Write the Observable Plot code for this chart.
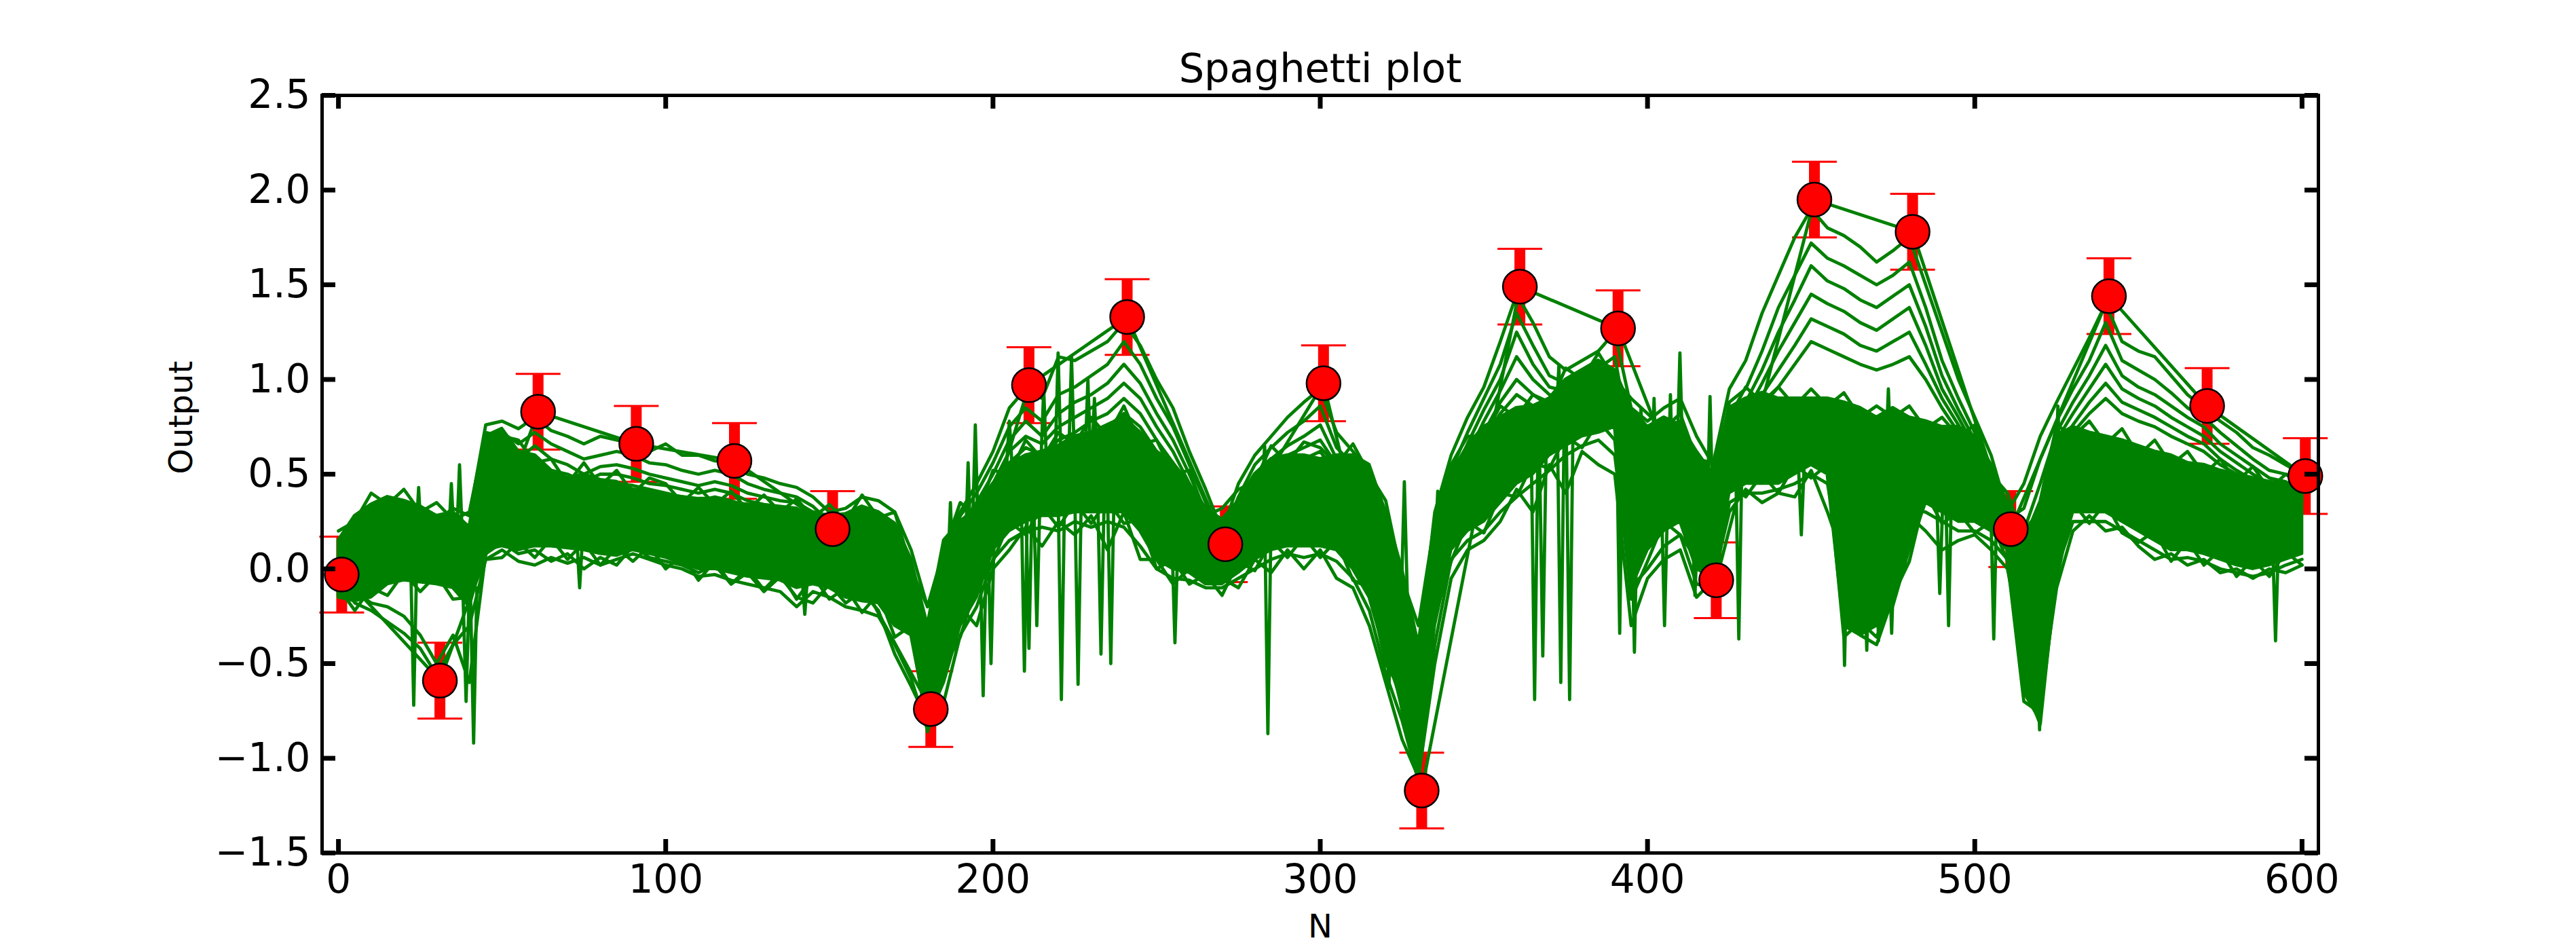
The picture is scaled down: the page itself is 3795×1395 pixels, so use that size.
<!DOCTYPE html>
<html><head><meta charset="utf-8">
<script src="https://cdn.jsdelivr.net/npm/d3@7"></script>
<script src="https://cdn.jsdelivr.net/npm/@observablehq/plot@0.6"></script>
<style>body{margin:0;background:#fff}</style>
</head><body><div id="chart"></div>
<script>
// ---------- observed points ----------
const obsX = [1,31,61,91,121,151,181,211,241,271,301,331,361,391,421,451,481,511,541,571,601];
const obsY = [-0.03,-0.59,0.83,0.66,0.57,0.21,-0.74,0.97,1.33,0.13,0.98,-1.17,1.49,1.27,-0.06,1.95,1.78,0.21,1.44,0.86,0.49];
const obsErr = 0.2;

// ---------- axis ticks ----------
const xTicks = [0,100,200,300,400,500,600];
const yTicks = [-1.5,-1.0,-0.5,0.0,0.5,1.0,1.5,2.0,2.5];

// ---------- spaghetti: sample grid every 5 units (0..600) ----------
const sampleX = d3.range(0, 601, 5);
const coreHi = [0.15,0.28,0.34,0.38,0.36,0.33,0.28,0.30,0.22,0.70,
 0.74,0.62,0.60,0.52,0.48,0.50,0.47,0.46,0.42,0.41,
 0.39,0.38,0.37,0.37,0.35,0.34,0.33,0.32,0.31,0.30,
 0.28,0.29,0.33,0.30,0.24,0.05,-0.30,0.15,0.25,0.32,
 0.45,0.55,0.60,0.62,0.65,0.70,0.72,0.76,0.80,0.72,
 0.62,0.56,0.45,0.32,0.26,0.36,0.50,0.58,0.60,0.60,
 0.58,0.60,0.60,0.55,0.30,0.00,-0.40,0.20,0.50,0.65,
 0.75,0.80,0.85,0.86,0.90,1.00,1.05,1.10,1.05,0.85,
 0.75,0.80,0.76,0.62,0.50,0.85,0.90,0.93,0.90,0.90,
 0.90,0.90,0.88,0.85,0.80,0.85,0.80,0.78,0.75,0.75,
 0.70,0.55,0.35,0.20,0.30,0.70,0.75,0.72,0.70,0.68,
 0.65,0.62,0.60,0.56,0.55,0.52,0.50,0.48,0.46,0.45,
 0.45];
const coreLo = [-0.15,-0.17,-0.15,-0.08,-0.06,-0.07,-0.08,-0.10,-0.20,0.10,
 0.12,0.10,0.12,0.12,0.11,0.10,0.08,0.07,0.10,0.08,
 0.06,0.03,0.00,0.00,-0.02,-0.04,-0.05,-0.06,-0.10,-0.08,
 -0.10,-0.15,-0.17,-0.18,-0.30,-0.35,-0.80,-0.60,-0.30,-0.15,
 0.10,0.20,0.25,0.28,0.28,0.30,0.30,0.30,0.30,0.20,
 0.05,0.00,-0.02,-0.08,-0.08,-0.02,0.05,0.10,0.12,0.12,
 0.12,0.10,0.00,-0.15,-0.45,-0.70,-1.05,-0.30,0.10,0.20,
 0.25,0.35,0.45,0.50,0.60,0.65,0.70,0.72,0.75,-0.10,
 0.10,0.20,0.25,0.00,-0.05,0.40,0.45,0.45,0.45,0.50,
 0.55,0.50,-0.30,-0.35,-0.30,-0.20,0.10,0.35,0.30,0.25,
 0.25,0.20,0.10,-0.65,-0.80,0.00,0.30,0.30,0.30,0.25,
 0.20,0.15,0.10,0.10,0.08,0.05,0.02,0.00,0.02,0.05,
 0.08];
// jagged strands along the upper and lower edge of the dense band
const E0 = [0.20,0.25,0.40,0.34,0.42,0.30,0.35,0.26,0.30,0.72,
 0.70,0.68,0.56,0.58,0.45,0.56,0.44,0.52,0.40,0.48,
 0.45,0.35,0.43,0.34,0.41,0.31,0.39,0.30,0.37,0.27,
 0.34,0.25,0.39,0.27,0.30,0.00,-0.20,0.10,0.35,0.28,
 0.52,0.50,0.68,0.58,0.72,0.66,0.80,0.70,0.86,0.66,
 0.68,0.50,0.52,0.28,0.32,0.42,0.46,0.65,0.56,0.67,
 0.64,0.55,0.66,0.50,0.36,-0.05,-0.30,0.25,0.55,0.70,
 0.70,0.86,0.80,0.92,0.86,1.06,1.00,1.14,1.00,0.90,
 0.82,0.74,0.82,0.58,0.56,0.80,0.96,0.88,0.96,0.86,
 0.95,0.86,0.93,0.80,0.86,0.80,0.86,0.74,0.80,0.70,
 0.76,0.50,0.40,0.15,0.36,0.76,0.70,0.78,0.66,0.74,
 0.60,0.68,0.55,0.62,0.50,0.58,0.46,0.54,0.42,0.50,
 0.44];
const E1 = [-0.10,-0.22,-0.10,-0.14,-0.02,-0.12,-0.03,-0.16,-0.15,0.05,
 0.06,0.14,0.06,0.16,0.05,0.14,0.02,0.11,0.04,0.12,
 0.00,0.07,-0.06,0.04,-0.08,0.00,-0.11,-0.02,-0.16,-0.04,
 -0.16,-0.10,-0.23,-0.13,-0.36,-0.30,-0.86,-0.52,-0.36,-0.08,
 0.04,0.25,0.18,0.33,0.22,0.35,0.24,0.36,0.24,0.26,
 0.00,0.05,-0.08,-0.03,-0.14,0.04,-0.01,0.15,0.06,0.17,
 0.06,0.15,-0.06,-0.10,-0.50,-0.65,-1.10,-0.25,0.04,0.25,
 0.19,0.40,0.38,0.56,0.53,0.70,0.64,0.78,0.68,-0.16,
 0.04,0.25,0.18,0.05,-0.12,0.45,0.38,0.50,0.40,0.55,
 0.48,0.55,-0.36,-0.28,-0.36,-0.14,0.04,0.40,0.24,0.30,
 0.19,0.25,0.04,-0.70,-0.76,-0.06,0.35,0.24,0.35,0.19,
 0.14,0.20,0.04,0.15,0.02,0.10,-0.04,0.05,-0.04,0.09,
 0.02];
const U0 = [0.05,0.22,0.33,0.38,0.36,0.30,0.25,0.32,0.28,0.76,
 0.78,0.74,0.80,0.73,0.70,0.66,0.70,0.68,0.66,0.62,
 0.66,0.60,0.60,0.57,0.56,0.50,0.48,0.45,0.43,0.38,
 0.30,0.32,0.38,0.36,0.30,0.10,-0.20,0.10,0.30,0.45,
 0.62,0.85,0.95,0.90,1.12,1.10,1.15,1.20,1.30,1.18,
 1.00,0.85,0.62,0.42,0.20,0.45,0.60,0.70,0.80,0.88,
 0.95,0.72,0.62,0.50,0.30,-0.20,-0.45,0.30,0.60,0.80,
 0.96,1.20,1.45,1.30,1.12,1.05,1.10,1.15,1.25,0.85,
 0.78,0.85,0.90,0.70,0.55,0.95,1.10,1.35,1.55,1.75,
 1.90,1.80,1.76,1.70,1.62,1.68,1.75,1.50,1.25,1.00,
 0.80,0.60,0.30,0.45,0.70,0.88,1.05,1.22,1.40,1.20,
 1.15,1.12,1.02,0.92,0.85,0.78,0.72,0.64,0.60,0.55,
 0.50];
const U1 = [0.00,0.18,0.28,0.33,0.30,0.22,0.18,0.26,0.20,0.68,
 0.72,0.66,0.72,0.66,0.62,0.58,0.60,0.62,0.60,0.56,
 0.55,0.52,0.50,0.52,0.50,0.45,0.42,0.40,0.38,0.33,
 0.25,0.24,0.32,0.30,0.22,0.00,-0.30,0.00,0.28,0.40,
 0.56,0.75,0.85,0.78,0.92,0.96,1.02,1.08,1.20,1.08,
 0.90,0.75,0.55,0.35,0.16,0.38,0.55,0.64,0.72,0.78,
 0.86,0.64,0.55,0.42,0.20,-0.35,-0.70,0.20,0.52,0.72,
 0.90,1.08,1.35,1.18,1.02,0.98,1.02,1.06,1.12,0.65,
 0.60,0.72,0.78,0.55,0.40,0.88,0.95,1.15,1.38,1.55,
 1.72,1.64,1.60,1.55,1.50,1.55,1.62,1.38,1.10,0.90,
 0.72,0.52,0.26,0.32,0.58,0.78,0.95,1.10,1.30,1.10,
 1.05,1.00,0.93,0.85,0.80,0.72,0.65,0.58,0.52,0.50,
 0.46];
const U2 = [-0.05,0.12,0.22,0.28,0.24,0.15,0.10,0.20,0.12,0.60,
 0.66,0.58,0.65,0.58,0.55,0.50,0.54,0.55,0.53,0.50,
 0.48,0.46,0.44,0.46,0.44,0.40,0.38,0.36,0.35,0.30,
 0.20,0.18,0.28,0.24,0.15,-0.10,-0.40,-0.10,0.22,0.35,
 0.50,0.68,0.78,0.70,0.82,0.88,0.92,0.98,1.08,0.98,
 0.82,0.68,0.50,0.30,0.12,0.32,0.50,0.58,0.65,0.70,
 0.76,0.58,0.50,0.36,0.10,-0.45,-0.85,0.10,0.46,0.66,
 0.84,1.00,1.25,1.08,0.96,0.94,0.98,1.02,1.04,0.50,
 0.52,0.65,0.70,0.45,0.30,0.80,0.88,1.05,1.25,1.42,
 1.60,1.52,1.48,1.42,1.38,1.44,1.50,1.28,1.02,0.84,
 0.68,0.48,0.22,0.20,0.45,0.72,0.88,1.02,1.18,1.02,
 0.96,0.92,0.86,0.80,0.75,0.66,0.60,0.54,0.48,0.46,
 0.42];
const U3 = [-0.10,0.08,0.18,0.25,0.20,0.12,0.06,0.15,0.05,0.55,
 0.60,0.52,0.60,0.52,0.50,0.46,0.50,0.50,0.48,0.45,
 0.44,0.42,0.40,0.42,0.40,0.36,0.34,0.33,0.32,0.27,
 0.16,0.12,0.24,0.20,0.10,-0.18,-0.50,-0.20,0.18,0.30,
 0.45,0.62,0.70,0.66,0.75,0.80,0.85,0.90,0.98,0.90,
 0.75,0.62,0.45,0.26,0.10,0.28,0.45,0.54,0.60,0.64,
 0.68,0.55,0.45,0.30,0.00,-0.55,-0.95,0.00,0.40,0.60,
 0.78,0.94,1.12,1.00,0.92,0.90,0.95,0.98,0.98,0.40,
 0.45,0.60,0.65,0.38,0.20,0.75,0.82,0.98,1.15,1.30,
 1.45,1.40,1.36,1.30,1.26,1.32,1.38,1.18,0.95,0.80,
 0.64,0.45,0.20,0.10,0.35,0.68,0.82,0.95,1.08,0.95,
 0.90,0.86,0.80,0.75,0.70,0.62,0.56,0.50,0.45,0.42,
 0.40];
const U4 = [-0.12,0.05,0.15,0.20,0.16,0.08,0.02,0.10,0.00,0.50,
 0.55,0.48,0.55,0.48,0.45,0.42,0.45,0.45,0.44,0.42,
 0.40,0.38,0.36,0.38,0.36,0.33,0.31,0.30,0.28,0.24,
 0.12,0.08,0.20,0.16,0.05,-0.25,-0.60,-0.30,0.12,0.26,
 0.40,0.56,0.64,0.60,0.68,0.72,0.78,0.82,0.90,0.82,
 0.68,0.56,0.40,0.22,0.06,0.24,0.42,0.50,0.55,0.58,
 0.62,0.50,0.40,0.25,-0.10,-0.65,-1.05,-0.10,0.35,0.55,
 0.72,0.88,1.00,0.92,0.88,0.88,0.92,0.95,0.92,0.30,
 0.38,0.55,0.60,0.30,0.10,0.70,0.78,0.92,1.05,1.18,
 1.32,1.28,1.24,1.18,1.15,1.20,1.25,1.08,0.90,0.76,
 0.60,0.42,0.18,0.00,0.25,0.64,0.76,0.88,0.98,0.88,
 0.84,0.80,0.75,0.70,0.66,0.58,0.52,0.47,0.42,0.40,
 0.38];
const U5 = [-0.15,0.02,0.10,0.15,0.12,0.04,-0.05,0.05,-0.05,0.45,
 0.50,0.44,0.50,0.44,0.42,0.38,0.40,0.41,0.40,0.38,
 0.36,0.34,0.33,0.34,0.32,0.30,0.28,0.27,0.25,0.20,
 0.08,0.04,0.15,0.12,0.00,-0.32,-0.68,-0.40,0.06,0.22,
 0.36,0.50,0.58,0.55,0.62,0.66,0.70,0.75,0.82,0.75,
 0.62,0.50,0.36,0.18,0.02,0.20,0.38,0.46,0.50,0.54,
 0.58,0.46,0.35,0.18,-0.20,-0.75,-1.12,-0.20,0.30,0.50,
 0.68,0.82,0.92,0.86,0.84,0.86,0.90,0.92,0.88,0.20,
 0.30,0.50,0.55,0.22,0.00,0.66,0.74,0.86,0.96,1.08,
 1.20,1.16,1.12,1.08,1.05,1.08,1.12,1.00,0.85,0.72,
 0.56,0.40,0.15,-0.10,0.15,0.60,0.72,0.82,0.90,0.82,
 0.78,0.75,0.70,0.66,0.62,0.55,0.50,0.44,0.40,0.38,
 0.36];
const D0 = [-0.05,-0.18,-0.22,-0.28,-0.34,-0.42,-0.56,-0.40,-0.30,0.05,
 0.10,0.04,0.02,0.06,0.03,0.06,0.02,0.05,0.08,0.05,
 0.02,0.00,-0.04,-0.03,-0.06,-0.08,-0.10,-0.12,-0.20,-0.12,
 -0.15,-0.20,-0.22,-0.25,-0.40,-0.58,-0.85,-0.70,-0.35,-0.20,
 0.05,0.15,0.20,0.22,0.20,0.25,0.22,0.25,0.22,0.12,
 0.00,-0.05,-0.06,-0.10,-0.10,-0.05,0.00,0.05,0.08,0.06,
 0.08,0.04,-0.05,-0.22,-0.55,-0.80,-1.12,-0.40,0.05,0.15,
 0.20,0.30,0.38,0.45,0.52,0.60,0.65,0.68,0.60,-0.10,
 0.00,0.12,0.18,-0.08,-0.10,0.35,0.40,0.40,0.42,0.45,
 0.50,0.45,-0.05,-0.35,-0.40,-0.15,0.32,0.30,0.25,0.20,
 0.20,0.15,0.05,-0.60,-0.82,0.00,0.25,0.25,0.25,0.20,
 0.15,0.10,0.05,0.06,0.04,0.00,-0.02,-0.04,-0.02,0.02,
 0.05];
const D1 = [0.00,-0.12,-0.18,-0.20,-0.25,-0.35,-0.50,-0.35,-0.60,0.08,
 0.14,0.08,0.10,0.04,0.08,0.00,0.06,0.02,0.12,0.06,
 0.04,0.02,-0.02,0.02,-0.08,-0.02,-0.12,-0.04,-0.15,-0.18,
 -0.08,-0.18,-0.12,-0.22,-0.45,-0.62,-0.80,-0.55,-0.20,-0.30,
 0.00,0.10,0.22,0.12,0.25,0.18,0.28,0.10,0.30,0.05,
 0.05,-0.08,0.00,-0.06,-0.05,-0.10,0.05,-0.02,0.10,0.00,
 0.10,-0.05,-0.10,-0.30,-0.60,-0.90,-1.10,-0.50,-0.05,0.10,
 0.15,0.25,0.42,0.30,0.55,0.40,0.62,0.55,0.50,-0.30,
 -0.05,0.05,0.10,-0.15,-0.06,0.30,0.42,0.35,0.40,0.38,
 0.52,0.30,0.05,-0.25,-0.30,0.00,0.28,0.20,0.10,0.15,
 0.18,0.10,0.00,-0.45,-0.70,-0.10,0.20,0.28,0.20,0.22,
 0.12,0.05,0.08,0.02,0.05,-0.02,0.00,-0.05,0.00,-0.02,
 0.02];
// single-sample spikes: [x, level beside spike, spike tip]
const spikes = [[23,0.1,-0.72],[24.5,0.1,0.43],[34.5,0.1,0.45],[37,0.1,0.55],[39,-0.1,-0.7],[41.3,-0.1,-0.92],
 [73.7,0.2,-0.1],[142.5,0.0,-0.24],[187,-0.1,0.35],[192.4,0.0,0.56],[194.6,0.1,0.76],[197,0.1,-0.67],
 [199.4,0.2,-0.5],[205,0.5,0.78],[209.6,0.4,-0.54],[211,0.4,-0.42],[213.4,0.4,-0.3],[215.5,0.5,0.95],
 [219.9,0.5,1.14],[220.9,0.4,-0.69],[224,0.5,1.12],[226,0.4,-0.61],[229,0.5,1.0],[231,0.5,0.9],
 [233,0.4,-0.45],[236,0.4,-0.5],[255.6,0.2,-0.39],[283,0.3,0.65],
 [284,0.3,-0.87],[321,-0.1,-0.63],[325.7,-0.2,0.46],[335.9,0.0,0.41],[365.5,0.6,-0.69],[368,0.6,-0.46],
 [372.9,0.7,1.07],[373.5,0.7,-0.6],[376.2,0.7,-0.69],[391.5,0.8,-0.34],[396,0.4,-0.44],[398,0.3,0.85],
 [402,0.3,0.9],[405.2,0.4,-0.3],[407,0.3,0.92],
 [409.9,0.5,1.14],[414.5,0.3,-0.14],[419.1,0.2,0.91],[427.9,0.6,-0.37],[447,0.6,0.18],[460.2,0.3,-0.51],
 [467,0.2,-0.43],[470.6,0.2,-0.38],[473.6,0.5,0.95],[474.6,0.2,-0.34],[489.3,0.4,-0.13],[492,0.5,-0.3],
 [505.8,0.4,-0.37],[519.8,-0.2,-0.85],[525.4,0.3,0.86],[591.9,0.2,-0.38]];

// ---------- build tables ----------
const obs = obsX.map((x, i) => ({x, y: obsY[i]}));
const core = sampleX.map((x, i) => ({x, lo: coreLo[i], hi: coreHi[i]}));
const strands = {E0, E1, U0, U1, U2, U3, U4, U5, D0, D1};
const strandRows = Object.entries(strands).flatMap(([id, ys]) => ys.map((y, i) => ({id, x: sampleX[i], y})));
const spikeRows = spikes.flatMap(([x, b, t], i) => [{id: i, x: x - 1, y: b}, {id: i, x, y: t}, {id: i, x: x + 1, y: b}]);

const W = 3795, H = 1395, mL = 474, mR = 380, mT = 140, mB = 139;
const iW = W - mL - mR, iH = H - mT - mB;
const green = "#008000";
const lw = 4.8;
const capSymbol = {draw(ctx, size) { const w = Math.sqrt(size / Math.PI); ctx.moveTo(-w, 0); ctx.lineTo(w, 0); }};
const fmt = d => d3.format(".1f")(d);

const chart = Plot.plot({
  width: W, height: H,
  marginLeft: mL, marginRight: mR, marginTop: mT, marginBottom: mB,
  x: {domain: [-5, 605], axis: null},
  y: {domain: [-1.5, 2.5], axis: null},
  style: {fontFamily: "DejaVu Sans", background: "white", color: "black"},
  marks: [
    Plot.ruleX(obs, {x: "x", y1: d => d.y - obsErr, y2: d => d.y + obsErr, stroke: "red", strokeWidth: 16}),
    Plot.dot(obs, {x: "x", y: d => d.y + obsErr, symbol: capSymbol, r: 33, stroke: "red", strokeWidth: 3, fill: "none"}),
    Plot.dot(obs, {x: "x", y: d => d.y - obsErr, symbol: capSymbol, r: 33, stroke: "red", strokeWidth: 3, fill: "none"}),
    Plot.areaY(core, {x: "x", y1: "lo", y2: "hi", fill: green, stroke: green, strokeWidth: lw, clip: true}),
    Plot.line(strandRows, {x: "x", y: "y", z: "id", stroke: green, strokeWidth: lw, clip: true}),
    Plot.line(spikeRows, {x: "x", y: "y", z: "id", stroke: green, strokeWidth: lw, clip: true}),
    Plot.line(obs, {x: "x", y: "y", stroke: green, strokeWidth: lw}),
    Plot.dot(obs, {x: "x", y: "y", r: 25, fill: "red", stroke: "black", strokeWidth: 2.5}),
    Plot.frame({stroke: "black", strokeWidth: 5}),
    Plot.ruleY(yTicks, {y: d => d, insetRight: iW - 20, stroke: "black", strokeWidth: 7}),
    Plot.ruleY(yTicks, {y: d => d, insetLeft: iW - 20, stroke: "black", strokeWidth: 7}),
    Plot.ruleX(xTicks, {x: d => d, insetTop: iH - 20, stroke: "black", strokeWidth: 7}),
    Plot.ruleX(xTicks, {x: d => d, insetBottom: iH - 20, stroke: "black", strokeWidth: 7}),
    Plot.text(yTicks, {y: d => d, text: fmt, frameAnchor: "left", textAnchor: "end", dx: -17, fontSize: 58, fill: "black"}),
    Plot.text(xTicks, {x: d => d, text: d => String(d), frameAnchor: "bottom", lineAnchor: "top", dy: 17, fontSize: 58, fill: "black"}),
    Plot.text(["Spaghetti plot"], {frameAnchor: "top", lineAnchor: "bottom", dy: -20, fontSize: 59, fill: "black"}),
    Plot.text(["Output"], {frameAnchor: "left", dx: -207, rotate: -90, fontSize: 48, fill: "black"}),
    Plot.text(["N"], {frameAnchor: "bottom", lineAnchor: "top", dy: 90, fontSize: 48, fill: "black"})
  ]
});
document.getElementById("chart").appendChild(chart);
</script></body></html>
